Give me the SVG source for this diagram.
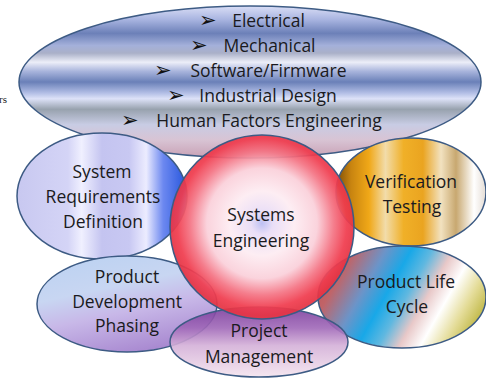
<svg xmlns="http://www.w3.org/2000/svg" width="486" height="378" viewBox="0 0 486 378">
<defs>
<style>
.n{stroke:#3d5b84;stroke-width:1.5}
.t{font-family:"Open Sans","Liberation Sans",sans-serif;font-size:17.5px;fill:#1a1a20;text-anchor:middle}
.a{font-family:"DejaVu Sans",sans-serif;font-size:21px;fill:#111}
</style>
<linearGradient id="gTop" x1="0" y1="0" x2="0" y2="1">
<stop offset="0" stop-color="#dadef6"/>
<stop offset="0.09" stop-color="#a8b4e0"/>
<stop offset="0.18" stop-color="#6c80b8"/>
<stop offset="0.26" stop-color="#a4b0da"/>
<stop offset="0.31" stop-color="#aab0c8"/>
<stop offset="0.37" stop-color="#eceef8"/>
<stop offset="0.43" stop-color="#a8b4dc"/>
<stop offset="0.5" stop-color="#6a80b8"/>
<stop offset="0.57" stop-color="#b0bce4"/>
<stop offset="0.61" stop-color="#dde2f8"/>
<stop offset="0.68" stop-color="#98a2ae"/>
<stop offset="0.78" stop-color="#c8cce4"/>
<stop offset="0.88" stop-color="#d8c4d4"/>
<stop offset="1" stop-color="#c8a0b4"/>
</linearGradient>
<linearGradient id="gSRD" x1="0" y1="0" x2="1" y2="0">
<stop offset="0" stop-color="#c8c8f0"/>
<stop offset="0.3" stop-color="#d4d4f6"/>
<stop offset="0.38" stop-color="#f0f0ff"/>
<stop offset="0.5" stop-color="#c4c4f0"/>
<stop offset="0.66" stop-color="#c8c8f2"/>
<stop offset="0.76" stop-color="#ececff"/>
<stop offset="0.86" stop-color="#6c88f0"/>
<stop offset="1" stop-color="#2454dc"/>
</linearGradient>
<linearGradient id="gVer" x1="0" y1="0" x2="1" y2="0">
<stop offset="0" stop-color="#7a4c08"/>
<stop offset="0.1" stop-color="#c88410"/>
<stop offset="0.22" stop-color="#f0a818"/>
<stop offset="0.33" stop-color="#f2dcaa"/>
<stop offset="0.45" stop-color="#f0b028"/>
<stop offset="0.58" stop-color="#eaa420"/>
<stop offset="0.7" stop-color="#f2e2c0"/>
<stop offset="0.8" stop-color="#c8a870"/>
<stop offset="0.92" stop-color="#ffffff"/>
<stop offset="1" stop-color="#e4dcd4"/>
</linearGradient>
<linearGradient id="gPLC" gradientUnits="userSpaceOnUse" x1="320" y1="255" x2="480" y2="345">
<stop offset="0" stop-color="#c04c50"/>
<stop offset="0.15" stop-color="#c06468"/>
<stop offset="0.3" stop-color="#6c94c8"/>
<stop offset="0.42" stop-color="#18a8e8"/>
<stop offset="0.52" stop-color="#60b8e0"/>
<stop offset="0.62" stop-color="#e8c8c8"/>
<stop offset="0.72" stop-color="#ffffff"/>
<stop offset="0.83" stop-color="#e4dc98"/>
<stop offset="1" stop-color="#a8a010"/>
</linearGradient>
<linearGradient id="gPDP" x1="0.2" y1="0" x2="0.6" y2="1">
<stop offset="0" stop-color="#bcd2f2"/>
<stop offset="0.35" stop-color="#c8d6f2"/>
<stop offset="0.6" stop-color="#c8b8e8"/>
<stop offset="1" stop-color="#a888d0"/>
</linearGradient>
<linearGradient id="gPM" x1="0" y1="0" x2="0" y2="1">
<stop offset="0" stop-color="#7a3c9c"/>
<stop offset="0.3" stop-color="#a068b8"/>
<stop offset="0.55" stop-color="#d4b0d8"/>
<stop offset="1" stop-color="#f4e4ee"/>
</linearGradient>
<radialGradient id="gSE" cx="0.5" cy="0.48" r="0.5">
<stop offset="0" stop-color="#b8bcf2"/>
<stop offset="0.12" stop-color="#e8dcf6"/>
<stop offset="0.35" stop-color="#fdecf2"/>
<stop offset="0.6" stop-color="#fad0da"/>
<stop offset="0.78" stop-color="#f47484"/>
<stop offset="0.92" stop-color="#f03c4e"/>
<stop offset="1" stop-color="#e63444"/>
</radialGradient>
</defs>
<rect width="486" height="378" fill="#ffffff"/>
<text x="-1" y="103" font-family="Liberation Serif,serif" font-size="11" fill="#222">rs</text>
<g id="disciplines">
<ellipse class="n" cx="250" cy="82" rx="231" ry="76" fill="url(#gTop)"/>
<text class="a" x="199" y="27">➢</text><text class="t" x="268.5" y="27">Electrical</text>
<text class="a" x="190" y="52">➢</text><text class="t" x="269.5" y="52">Mechanical</text>
<text class="a" x="154" y="77">➢</text><text class="t" x="268.5" y="77">Software/Firmware</text>
<text class="a" x="167" y="102">➢</text><text class="t" x="268" y="102">Industrial Design</text>
<text class="a" x="121" y="127">➢</text><text class="t" x="269" y="127">Human Factors Engineering</text>
</g>
<g id="connectors"/>
<g id="srd">
<ellipse class="n" cx="102" cy="196" rx="85" ry="63" fill="url(#gSRD)"/>
<text class="t" x="102" y="178">System</text>
<text class="t" x="103" y="203">Requirements</text>
<text class="t" x="103" y="228">Definition</text>
</g>
<g id="verification">
<ellipse class="n" cx="411" cy="192" rx="75" ry="54" fill="url(#gVer)"/>
<text class="t" x="411" y="188">Verification</text>
<text class="t" x="412" y="213">Testing</text>
</g>
<g id="plc">
<ellipse class="n" cx="402" cy="297" rx="84" ry="51" fill="url(#gPLC)"/>
<text class="t" x="406" y="288">Product Life</text>
<text class="t" x="407" y="313">Cycle</text>
</g>
<g id="pdp">
<ellipse class="n" cx="127" cy="304" rx="90" ry="48" fill="url(#gPDP)"/>
<text class="t" x="127" y="283">Product</text>
<text class="t" x="127" y="308">Development</text>
<text class="t" x="127" y="332">Phasing</text>
</g>
<g id="pm">
<ellipse class="n" cx="259" cy="342" rx="89" ry="35" fill="url(#gPM)" fill-opacity="0.9"/>
<text class="t" x="259" y="337">Project</text>
<text class="t" x="259" y="363">Management</text>
</g>
<g id="se">
<circle class="n" cx="262" cy="227" r="92" fill="url(#gSE)" fill-opacity="0.93"/>
<text class="t" x="261" y="221">Systems</text>
<text class="t" x="261" y="247">Engineering</text>
</g>
</svg>
